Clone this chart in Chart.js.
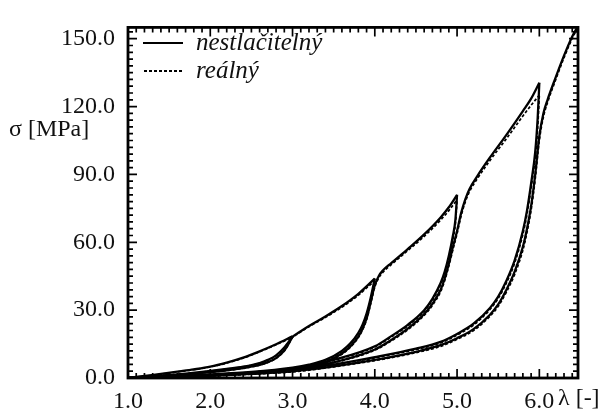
<!DOCTYPE html>
<html>
<head>
<meta charset="utf-8">
<script src="https://cdn.jsdelivr.net/npm/chart.js@4.4.1/dist/chart.umd.min.js"></script>
<style>
html, body { margin: 0; padding: 0; background: #fff; }
</style>
</head>
<body>
<canvas id="c" width="606" height="410"></canvas>
<script>
// tick labels
const xTicks = [1, 2, 3, 4, 5, 6]
const yTicks = [0, 30, 60, 90, 120, 150]

// first loading up to 3.0
const lamL1 = [1.0, 1.2, 1.4, 1.6, 1.8, 2.0, 2.2, 2.4, 2.6, 2.8, 3.0]
const sigL1 = [0, 0.9, 1.8, 2.8, 3.8, 5.0, 6.8, 9.0, 11.8, 14.9, 18.4]
const sigL1r = [0, 0.8, 1.7, 2.7, 3.7, 4.9, 6.6, 8.8, 11.6, 14.7, 18.1]

// unloading from 3.0
const lamU3 = [1.0, 1.3, 1.6, 1.9, 2.2, 2.4, 2.6, 2.7, 2.8, 2.9, 2.95, 3.0]
const sigU3 = [0, 0.8, 1.6, 2.7, 4.0, 5.0, 6.6, 8.0, 10.0, 13.5, 15.8, 18.4]
const sigU3r = [0, 0.7, 1.5, 2.6, 3.9, 4.9, 6.5, 7.9, 9.9, 13.3, 15.6, 18.1]

// reloading, on to 4.0
const lamR3 = [1.0, 1.3, 1.6, 1.9, 2.2, 2.4, 2.6, 2.7, 2.8, 2.9, 2.95, 3.0, 3.05, 3.1, 3.2, 3.4, 3.6, 3.8, 3.9, 4.0]
const sigR3 = [0, 0.6, 1.3, 2.3, 3.4, 4.4, 5.8, 7.0, 8.8, 12.2, 15.0, 18.2, 19.5, 20.7, 23.0, 27.2, 31.8, 37.2, 40.5, 44.0]
const sigR3r = [0, 0.5, 1.2, 2.2, 3.3, 4.3, 5.7, 6.9, 8.7, 12.0, 14.8, 17.9, 19.2, 20.4, 22.7, 26.8, 31.3, 36.6, 39.8, 43.0]

// unloading from 4.0
const lamU4 = [1.0, 1.5, 2.0, 2.5, 3.0, 3.2, 3.4, 3.6, 3.7, 3.8, 3.85, 3.9, 3.95, 4.0]
const sigU4 = [0, 0.8, 1.6, 2.7, 4.6, 5.9, 8.0, 12.0, 15.2, 20.0, 23.5, 28.5, 35.5, 44.0]
const sigU4r = [0, 0.7, 1.5, 2.6, 4.4, 5.7, 7.8, 11.7, 14.9, 19.6, 23.0, 28.0, 34.8, 43.0]

// reloading, on to 5.0
const lamR4 = [1.0, 1.5, 2.0, 2.5, 3.0, 3.2, 3.4, 3.6, 3.7, 3.8, 3.85, 3.9, 3.95, 4.0, 4.05, 4.1, 4.2, 4.4, 4.6, 4.8, 4.9, 5.0]
const sigR4 = [0, 0.6, 1.3, 2.3, 3.9, 5.0, 7.0, 10.8, 13.8, 18.3, 21.6, 26.3, 33.5, 41.0, 45.2, 47.6, 50.8, 57.0, 63.5, 71.0, 75.5, 81.0]
const sigR4r = [0, 0.5, 1.2, 2.2, 3.7, 4.8, 6.8, 10.5, 13.5, 17.9, 21.2, 25.8, 32.8, 40.2, 44.4, 46.8, 50.1, 56.3, 62.6, 69.8, 74.0, 78.8]

// unloading from 5.0
const lamU5 = [1.0, 1.5, 2.0, 2.5, 3.0, 3.5, 4.0, 4.2, 4.4, 4.6, 4.7, 4.8, 4.85, 4.9, 4.95, 4.98, 5.0]
const sigU5 = [0, 0.7, 1.4, 2.4, 4.0, 8.0, 14.0, 18.5, 23.5, 30.0, 35.0, 42.0, 47.0, 54.0, 63.0, 70.0, 81.0]
const sigU5r = [0, 0.6, 1.3, 2.3, 3.8, 7.8, 13.7, 18.1, 23.0, 29.4, 34.3, 41.2, 46.1, 52.8, 61.5, 68.3, 78.8]

// reloading, on to 6.0
const lamR5 = [1.0, 1.5, 2.0, 2.5, 3.0, 3.5, 4.0, 4.2, 4.4, 4.6, 4.7, 4.8, 4.85, 4.9, 4.95, 5.0, 5.05, 5.1, 5.15, 5.25, 5.4, 5.6, 5.8, 5.9, 6.0]
const sigR5 = [0, 0.5, 1.1, 2.0, 3.4, 6.9, 12.6, 16.8, 21.8, 28.3, 32.8, 39.0, 44.0, 50.5, 58.0, 65.0, 73.0, 79.0, 83.5, 89.5, 97.5, 107.5, 118.0, 123.5, 130.5]
const sigR5r = [0, 0.4, 1.0, 1.9, 3.2, 6.7, 12.3, 16.4, 21.3, 27.7, 32.1, 38.2, 43.1, 49.5, 56.8, 63.8, 71.8, 77.8, 82.3, 88.3, 96.2, 105.8, 115.8, 120.6, 125.0]

// unloading from 6.0
const lamU6 = [1.0, 1.5, 2.0, 2.5, 3.0, 3.5, 4.0, 4.5, 4.8, 5.0, 5.2, 5.4, 5.5, 5.6, 5.7, 5.8, 5.85, 5.9, 5.95, 5.98, 6.0]
const sigU6 = [0, 0.6, 1.2, 2.1, 3.4, 5.9, 9.2, 13.0, 16.0, 19.5, 24.0, 31.0, 36.0, 43.0, 52.0, 65.0, 74.0, 86.0, 100.0, 115.0, 130.5]
const sigU6r = [0, 0.5, 1.1, 2.0, 3.2, 5.7, 8.9, 12.6, 15.5, 19.0, 23.4, 30.3, 35.2, 42.0, 50.8, 63.5, 72.3, 84.0, 97.5, 110.5, 125.0]

// reloading past 6.0
const lamR6 = [1.0, 1.5, 2.0, 2.5, 3.0, 3.5, 4.0, 4.5, 4.8, 5.0, 5.2, 5.4, 5.5, 5.6, 5.7, 5.8, 5.85, 5.9, 5.95, 6.0, 6.05, 6.1, 6.2, 6.3, 6.4, 6.46]
const sigR6 = [0, 0.4, 1.0, 1.8, 2.9, 5.1, 8.0, 11.6, 14.5, 17.6, 21.6, 28.0, 32.5, 39.0, 47.0, 58.0, 66.0, 76.0, 90.0, 107.0, 117.0, 123.0, 133.0, 142.5, 151.0, 155.0]
const sigR6r = [0, 0.3, 0.9, 1.7, 2.7, 4.9, 7.7, 11.2, 14.0, 17.1, 21.0, 27.3, 31.7, 38.0, 45.8, 56.5, 64.4, 74.2, 88.0, 105.0, 115.5, 121.8, 132.0, 141.6, 150.2, 154.4]

const branches = [
    [lamL1, sigL1, sigL1r], [lamU3, sigU3, sigU3r], [lamR3, sigR3, sigR3r],
    [lamU4, sigU4, sigU4r], [lamR4, sigR4, sigR4r], [lamU5, sigU5, sigU5r],
    [lamR5, sigR5, sigR5r], [lamU6, sigU6, sigU6r], [lamR6, sigR6, sigR6r]
]

const serif = "'Liberation Serif', serif"
const ink = '#000'

function pts(xs, ys) {
    return xs.map((x, i) => ({x: x, y: ys[i]}))
}

let datasets = []
branches.forEach(b => {
    datasets.push({label: 'nestlačitelný', data: pts(b[0], b[1]), borderColor: ink, borderWidth: 2.3, borderDash: []})
})
branches.forEach(b => {
    datasets.push({label: 'reálný', data: pts(b[0], b[2]), borderColor: ink, borderWidth: 1.7, borderDash: [3, 2]})
})

// frame with inward ticks, axis titles and the legend inside the plot
const decor = {
    id: 'decor',
    afterDatasetsDraw(chart) {
        const ctx = chart.ctx
        const a = chart.chartArea
        const sx = chart.scales.x, sy = chart.scales.y
        ctx.save()
        ctx.strokeStyle = ink
        ctx.lineWidth = 1.7
        ctx.beginPath()
        for (let i = 10; i <= 64; i++) {
            const px = sx.getPixelForValue(i / 10)
            const len = i % 10 === 0 ? 9 : 5
            ctx.moveTo(px, a.bottom); ctx.lineTo(px, a.bottom - len)
            ctx.moveTo(px, a.top); ctx.lineTo(px, a.top + len)
        }
        for (let i = 0; i <= 51; i++) {
            const py = sy.getPixelForValue(i * 3)
            const len = i % 10 === 0 ? 9 : 5
            ctx.moveTo(a.left, py); ctx.lineTo(a.left + len, py)
            ctx.moveTo(a.right, py); ctx.lineTo(a.right - len, py)
        }
        ctx.stroke()
        ctx.lineWidth = 2.8
        ctx.strokeRect(a.left, a.top, a.right - a.left, a.bottom - a.top)

        ctx.fillStyle = '#111'
        ctx.font = '24px ' + serif
        ctx.textBaseline = 'middle'
        ctx.textAlign = 'left'
        ctx.fillText('σ [MPa]', 9, 130)
        ctx.fillText('λ [-]', 558, 399)

        // legend
        ctx.lineWidth = 2.2
        ctx.beginPath()
        ctx.moveTo(143, 43); ctx.lineTo(183, 43)
        ctx.stroke()
        ctx.setLineDash([3, 2])
        ctx.lineWidth = 1.9
        ctx.beginPath()
        ctx.moveTo(144, 71); ctx.lineTo(183, 71)
        ctx.stroke()
        ctx.setLineDash([])
        ctx.font = 'italic 25px ' + serif
        ctx.fillText('nestlačitelný', 196, 43)
        ctx.fillText('reálný', 196, 71)
        ctx.restore()
    }
}

new Chart(document.getElementById('c').getContext('2d'), {
    type: 'line',
    data: {datasets: datasets},
    plugins: [decor],
    options: {
        responsive: false,
        animation: false,
        layout: {padding: {top: 15, right: 28, left: 0, bottom: 0}},
        plugins: {legend: {display: false}, tooltip: {enabled: false}},
        elements: {
            point: {radius: 0},
            line: {cubicInterpolationMode: 'monotone', fill: false}
        },
        scales: {
            x: {
                type: 'linear', min: 1, max: 6.47,
                grid: {display: false, drawTicks: false},
                border: {display: false},
                afterBuildTicks: s => { s.ticks = xTicks.map(v => ({value: v})) },
                afterFit: s => { s.height = 32 },
                ticks: {
                    padding: 9, color: '#111', maxRotation: 0, autoSkip: false,
                    font: {family: serif, size: 24},
                    callback: v => v.toFixed(1)
                }
            },
            y: {
                type: 'linear', min: 0, max: 155,
                grid: {display: false, drawTicks: false},
                border: {display: false},
                afterBuildTicks: s => { s.ticks = yTicks.map(v => ({value: v})) },
                afterFit: s => { s.width = 128 },
                ticks: {
                    padding: 13, color: '#111', autoSkip: false,
                    font: {family: serif, size: 24},
                    callback: v => v.toFixed(1)
                }
            }
        }
    }
})
</script>
</body>
</html>
